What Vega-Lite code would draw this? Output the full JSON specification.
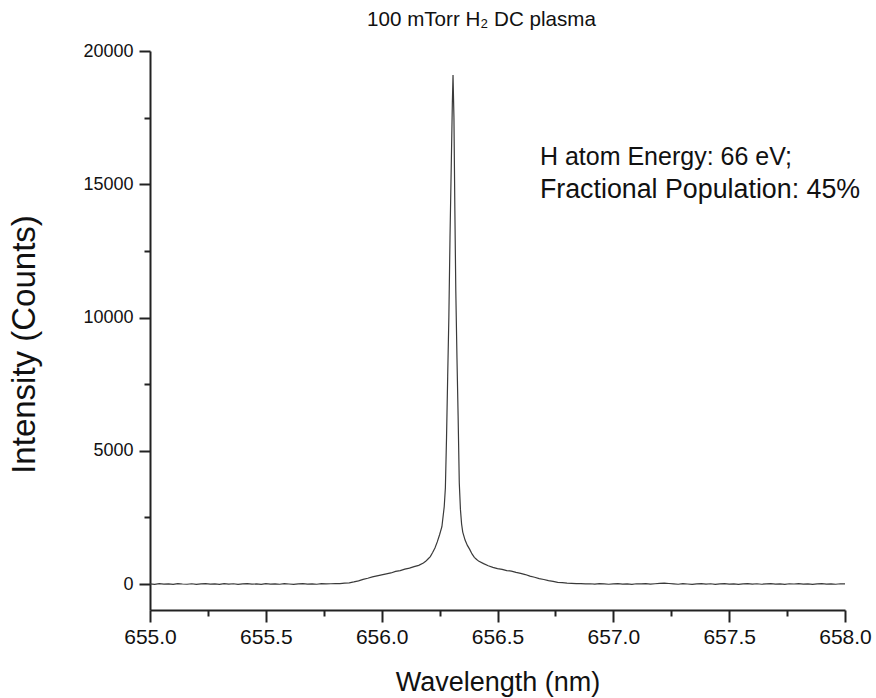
{
  "$schema": "https://vega.github.io/schema/vega-lite/v6.json",
  "width": 695,
  "height": 559,
  "autosize": {"type": "none"},
  "padding": {"left": 150, "top": 51, "right": 31, "bottom": 88},
  "background": "white",
  "config": {
    "view": {"stroke": null},
    "font": "Liberation Sans",
    "axis": {"grid": false, "labelFont": "Liberation Sans", "titleFont": "Liberation Sans", "labelColor": "#111", "titleColor": "#111", "titleFontWeight": "normal", "domainColor": "#222", "tickColor": "#222", "domainWidth": 2, "tickWidth": 2, "labelFlush": false, "labelOverlap": false}
  },
  "title": {"text": "100 mTorr H₂ DC plasma", "fontSize": 20.6, "fontWeight": "normal", "font": "Liberation Sans", "color": "#111", "anchor": "middle", "dx": -16, "offset": 11},
  "datasets": {
    "spectrum": [
      {"wl": 655.00, "counts": 5}, {"wl": 655.02, "counts": -10}, {"wl": 655.04, "counts": 12}, {"wl": 655.06, "counts": -5},
      {"wl": 655.08, "counts": 8}, {"wl": 655.10, "counts": -12}, {"wl": 655.12, "counts": 15}, {"wl": 655.14, "counts": 0},
      {"wl": 655.16, "counts": -8}, {"wl": 655.18, "counts": 10}, {"wl": 655.20, "counts": -15}, {"wl": 655.22, "counts": 6},
      {"wl": 655.24, "counts": 18}, {"wl": 655.26, "counts": -6}, {"wl": 655.28, "counts": 3}, {"wl": 655.30, "counts": -12},
      {"wl": 655.32, "counts": 14}, {"wl": 655.34, "counts": -3}, {"wl": 655.36, "counts": 9}, {"wl": 655.38, "counts": -10},
      {"wl": 655.40, "counts": 4}, {"wl": 655.42, "counts": 16}, {"wl": 655.44, "counts": -7}, {"wl": 655.46, "counts": 2},
      {"wl": 655.48, "counts": -14}, {"wl": 655.50, "counts": 11}, {"wl": 655.52, "counts": -4}, {"wl": 655.54, "counts": 7},
      {"wl": 655.56, "counts": -9}, {"wl": 655.58, "counts": 13}, {"wl": 655.60, "counts": 0}, {"wl": 655.62, "counts": -11},
      {"wl": 655.64, "counts": 8}, {"wl": 655.66, "counts": 15}, {"wl": 655.68, "counts": -2}, {"wl": 655.70, "counts": 6},
      {"wl": 655.72, "counts": -8}, {"wl": 655.74, "counts": 12}, {"wl": 655.76, "counts": 4}, {"wl": 655.78, "counts": 10},
      {"wl": 655.80, "counts": 18}, {"wl": 655.82, "counts": 15}, {"wl": 655.84, "counts": 30}, {"wl": 655.86, "counts": 45},
      {"wl": 655.88, "counts": 80}, {"wl": 655.90, "counts": 120}, {"wl": 655.92, "counts": 175}, {"wl": 655.94, "counts": 215},
      {"wl": 655.96, "counts": 265}, {"wl": 655.98, "counts": 305}, {"wl": 656.00, "counts": 345}, {"wl": 656.02, "counts": 380},
      {"wl": 656.04, "counts": 415}, {"wl": 656.06, "counts": 475}, {"wl": 656.08, "counts": 505}, {"wl": 656.10, "counts": 560},
      {"wl": 656.12, "counts": 595}, {"wl": 656.14, "counts": 655}, {"wl": 656.16, "counts": 700}, {"wl": 656.18, "counts": 790},
      {"wl": 656.19, "counts": 850}, {"wl": 656.20, "counts": 940}, {"wl": 656.21, "counts": 1030}, {"wl": 656.22, "counts": 1180},
      {"wl": 656.23, "counts": 1350}, {"wl": 656.24, "counts": 1580}, {"wl": 656.25, "counts": 1850}, {"wl": 656.26, "counts": 2150},
      {"wl": 656.27, "counts": 2900}, {"wl": 656.275, "counts": 3600}, {"wl": 656.28, "counts": 5500}, {"wl": 656.285, "counts": 7800},
      {"wl": 656.29, "counts": 10000}, {"wl": 656.295, "counts": 13000}, {"wl": 656.30, "counts": 15500}, {"wl": 656.305, "counts": 18000},
      {"wl": 656.308, "counts": 19100}, {"wl": 656.312, "counts": 17500}, {"wl": 656.316, "counts": 14000}, {"wl": 656.32, "counts": 11000},
      {"wl": 656.325, "counts": 8500}, {"wl": 656.33, "counts": 6300}, {"wl": 656.335, "counts": 3800}, {"wl": 656.34, "counts": 2800},
      {"wl": 656.345, "counts": 2250}, {"wl": 656.35, "counts": 1950}, {"wl": 656.36, "counts": 1650}, {"wl": 656.37, "counts": 1450},
      {"wl": 656.38, "counts": 1300}, {"wl": 656.39, "counts": 1130}, {"wl": 656.40, "counts": 1000}, {"wl": 656.41, "counts": 920},
      {"wl": 656.42, "counts": 850}, {"wl": 656.44, "counts": 765}, {"wl": 656.46, "counts": 685}, {"wl": 656.48, "counts": 625},
      {"wl": 656.50, "counts": 575}, {"wl": 656.52, "counts": 550}, {"wl": 656.54, "counts": 505}, {"wl": 656.56, "counts": 485},
      {"wl": 656.58, "counts": 435}, {"wl": 656.60, "counts": 400}, {"wl": 656.62, "counts": 355}, {"wl": 656.64, "counts": 295},
      {"wl": 656.66, "counts": 255}, {"wl": 656.68, "counts": 205}, {"wl": 656.70, "counts": 170}, {"wl": 656.72, "counts": 125},
      {"wl": 656.74, "counts": 100}, {"wl": 656.76, "counts": 65}, {"wl": 656.78, "counts": 50}, {"wl": 656.80, "counts": 32},
      {"wl": 656.82, "counts": 25}, {"wl": 656.84, "counts": 12}, {"wl": 656.86, "counts": 18}, {"wl": 656.88, "counts": 4},
      {"wl": 656.90, "counts": 10}, {"wl": 656.92, "counts": -6}, {"wl": 656.94, "counts": 12}, {"wl": 656.96, "counts": 3},
      {"wl": 656.98, "counts": -9}, {"wl": 657.00, "counts": 8}, {"wl": 657.02, "counts": 14}, {"wl": 657.04, "counts": -4},
      {"wl": 657.06, "counts": 6}, {"wl": 657.08, "counts": -11}, {"wl": 657.10, "counts": 9}, {"wl": 657.12, "counts": 2},
      {"wl": 657.14, "counts": 13}, {"wl": 657.16, "counts": -7}, {"wl": 657.18, "counts": 10}, {"wl": 657.20, "counts": 22},
      {"wl": 657.22, "counts": 35}, {"wl": 657.24, "counts": 20}, {"wl": 657.26, "counts": 5}, {"wl": 657.28, "counts": -8},
      {"wl": 657.30, "counts": 11}, {"wl": 657.32, "counts": 0}, {"wl": 657.34, "counts": -12}, {"wl": 657.36, "counts": 7},
      {"wl": 657.38, "counts": 15}, {"wl": 657.40, "counts": -3}, {"wl": 657.42, "counts": 9}, {"wl": 657.44, "counts": -10},
      {"wl": 657.46, "counts": 4}, {"wl": 657.48, "counts": 12}, {"wl": 657.50, "counts": -6}, {"wl": 657.52, "counts": 8},
      {"wl": 657.54, "counts": -13}, {"wl": 657.56, "counts": 5}, {"wl": 657.58, "counts": 14}, {"wl": 657.60, "counts": -2},
      {"wl": 657.62, "counts": 10}, {"wl": 657.64, "counts": -9}, {"wl": 657.66, "counts": 6}, {"wl": 657.68, "counts": 13},
      {"wl": 657.70, "counts": -5}, {"wl": 657.72, "counts": 3}, {"wl": 657.74, "counts": -11}, {"wl": 657.76, "counts": 9},
      {"wl": 657.78, "counts": 1}, {"wl": 657.80, "counts": 12}, {"wl": 657.82, "counts": -7}, {"wl": 657.84, "counts": 5},
      {"wl": 657.86, "counts": -10}, {"wl": 657.88, "counts": 8}, {"wl": 657.90, "counts": 14}, {"wl": 657.92, "counts": -4},
      {"wl": 657.94, "counts": 6}, {"wl": 657.96, "counts": -8}, {"wl": 657.98, "counts": 10}, {"wl": 658.00, "counts": 2}
    ],
    "note1": [{"wl": 656.683, "counts": 16020, "label": "H atom Energy: 66 eV;"}],
    "note2": [{"wl": 656.683, "counts": 14780, "label": "Fractional Population: 45%"}]
  },
  "resolve": {"axis": {"x": "independent", "y": "independent"}},
  "layer": [
    {
      "mark": {"type": "rule", "color": "#a0a0a0", "strokeWidth": 1.8},
      "encoding": {"y": {"datum": 0, "type": "quantitative", "scale": {"domain": [-975, 20000], "nice": false}, "axis": null}}
    },
    {
      "data": {"name": "spectrum"},
      "mark": {"type": "line", "color": "#3a3a3a", "strokeWidth": 1.2},
      "encoding": {
        "x": {"field": "wl", "type": "quantitative", "scale": {"domain": [655, 658], "nice": false, "zero": false},
          "axis": {"orient": "bottom", "values": [655, 655.5, 656, 656.5, 657, 657.5, 658], "format": ".1f", "tickSize": 12, "labelFontSize": 21, "labelPadding": 4, "title": "Wavelength (nm)", "titleFontSize": 27, "titlePadding": 22}},
        "y": {"field": "counts", "type": "quantitative", "scale": {"domain": [-975, 20000], "nice": false},
          "axis": {"orient": "left", "values": [0, 5000, 10000, 15000, 20000], "format": "d", "tickSize": 11, "labelFontSize": 18, "labelPadding": 6, "title": "Intensity (Counts)", "titleFontSize": 33, "titlePadding": 41, "titleY": 293}}
      }
    },
    {
      "data": {"name": "note1"},
      "mark": {"type": "text", "align": "left", "baseline": "middle", "fontSize": 25, "font": "Liberation Sans", "color": "#111"},
      "encoding": {
        "x": {"field": "wl", "type": "quantitative", "axis": {"orient": "bottom", "values": [655.25, 655.75, 656.25, 656.75, 657.25, 657.75], "labels": false, "domain": false, "tickSize": 6, "title": null}},
        "y": {"field": "counts", "type": "quantitative", "axis": {"orient": "left", "values": [2500, 7500, 12500, 17500], "labels": false, "domain": false, "tickSize": 6, "title": null}},
        "text": {"field": "label"}
      }
    },
    {
      "data": {"name": "note2"},
      "mark": {"type": "text", "align": "left", "baseline": "middle", "fontSize": 26.8, "font": "Liberation Sans", "color": "#111"},
      "encoding": {
        "x": {"field": "wl", "type": "quantitative", "axis": null},
        "y": {"field": "counts", "type": "quantitative", "axis": null},
        "text": {"field": "label"}
      }
    }
  ]
}
